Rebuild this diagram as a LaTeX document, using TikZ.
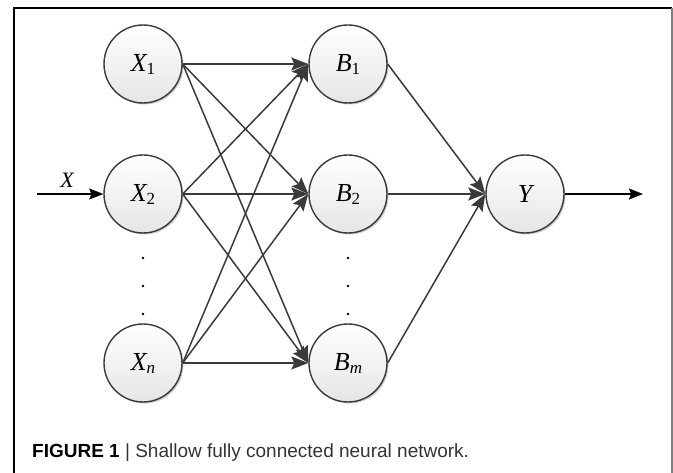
\documentclass[tikz,border=0pt]{standalone}
\usepackage{fontspec}
\setmainfont{Liberation Serif}
\setsansfont{Liberation Sans}
\usepackage{tikz}
\usetikzlibrary{arrows.meta}
\usetikzlibrary{shadows}
\definecolor{edge}{HTML}{3a3a3a}
\newcommand{\lbl}[2]{{\fontsize{26}{26}\selectfont\itshape #1}\raisebox{-3pt}{\fontsize{17}{17}\selectfont #2}}

\begin{document}
\begin{tikzpicture}[x=1pt,y=-1pt,
  unit/.style={circle, draw=edge, line width=1.4pt, minimum size=78pt, inner sep=0pt,
    top color=white, bottom color=black!10,
    drop shadow={shadow xshift=1.5pt, shadow yshift=-1.5pt, opacity=0.2, fill=black}},
  link/.style={draw=edge, line width=1.5pt, -{Stealth[length=17pt,width=13pt,inset=3pt]}},
  io/.style={draw=black, line width=1.4pt, -{Stealth[length=14pt,width=11pt,inset=2pt]}}]
\useasboundingbox (0,0) rectangle (673,473);
\draw [black, line width=1.4pt] (14,473) -- (14,8) -- (672,8);
\draw [gray, line width=2pt] (671.5,8) -- (671.5,473);

\node [unit] (x1) at (143,64) {\lbl{X}{1}};
\node [unit] (x2) at (143,194) {\lbl{X}{2}};
\node [unit] (xn) at (143,363) {\lbl{X}{\textit{n}}};
\node [unit] (b1) at (348,64) {\lbl{B}{1}};
\node [unit] (b2) at (348,194) {\lbl{B}{2}};
\node [unit] (bm) at (348,363) {\lbl{B}{\textit{m}}};
\node [unit] (y) at (525,194) {{\fontsize{26}{26}\selectfont\itshape Y}};

\foreach \d in {258,286,314} {
  \path[fill=black] (143,\d) circle (1.3pt);
  \path[fill=black] (348,\d) circle (1.3pt);
}

\foreach \s in {x1,x2,xn}
  \foreach \t in {b1,b2,bm}
    \draw [link] (\s.east) -- (\t.west);
\foreach \s in {b1,b2,bm}
  \draw [link] (\s.east) -- (y.west);

\coordinate (in) at (37,194);
\coordinate (out) at (643,194);
\draw [io] (in) -- (x2.west);
\draw [io] (y.east) -- (out);
\node at (67,180) {\fontsize{22}{22}\selectfont\itshape X};

\node [anchor=base west, inner sep=0pt] (cap) at (32,457)
  {\sffamily\fontsize{19}{19}\selectfont\textbf{FIGURE 1} \textcolor{black!80}{|} \textcolor{black!80}{Shallow fully connected neural network.}};
\end{tikzpicture}
\end{document}
